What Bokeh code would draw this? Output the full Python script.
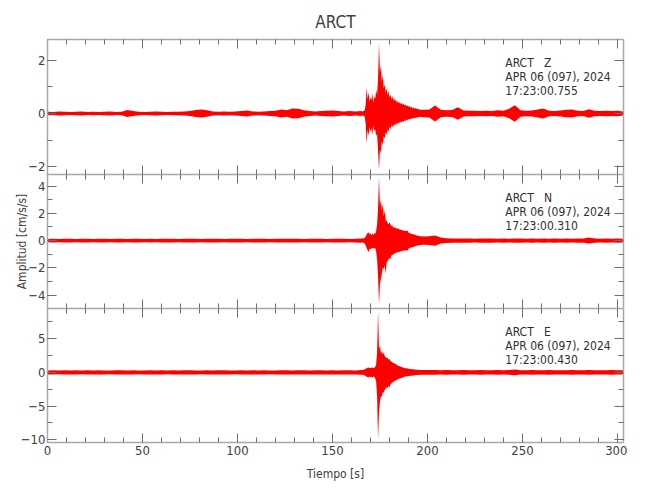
import numpy as np
from bokeh.plotting import figure
from bokeh.layouts import column
from bokeh.models import (Range1d, LinearAxis, SingleIntervalTicker,
                          CustomJSTickFormatter, ColumnDataSource, Label)
from bokeh.embed import file_html
from bokeh.resources import INLINE

# ---------------- data ----------------
station = "ARCT"
date_text = "APR 06 (097), 2024"
channels = ["Z", "N", "E"]
start_times = ["17:23:00.755", "17:23:00.310", "17:23:00.430"]
x_label = "Tiempo [s]"
y_label = "Amplitud [cm/s/s]"
x_max = 303.2
y_limits = [(-2.30, 2.79), (-4.98, 4.85), (-10.4, 9.48)]
y_tick_step = [2, 2, 5]
x_tick_step = 50

# time grids (s): pre-event every 3 s, event every 0.5 s, coda every 3 s
t_pre = np.arange(0, 166, 3)          # 0 ... 165
t_evt = np.arange(166, 196.5, 0.5)    # 166 ... 196
t_post = np.arange(198, 304, 3)       # 198 ... 303

# ---- Z component (peak amplitudes) ----
z_amp_pre = [0.07, 0.06, 0.08, 0.07, 0.06, 0.07, 0.08, 0.06, 0.07, 0.06,
             0.07, 0.08, 0.06, 0.07, 0.13, 0.09, 0.07, 0.06, 0.07, 0.08,
             0.07, 0.06, 0.07, 0.07, 0.08, 0.09, 0.13, 0.15, 0.12, 0.08,
             0.07, 0.08, 0.07, 0.08, 0.09, 0.11, 0.08, 0.07, 0.08, 0.09,
             0.10, 0.15, 0.12, 0.19, 0.18, 0.12, 0.09, 0.08, 0.09, 0.10,
             0.11, 0.09, 0.08, 0.09, 0.08, 0.09]
z_up_evt = [0.08, 0.10, 0.12, 0.35,
            0.97, 0.55, 0.80, 0.45, 0.60, 0.50, 0.75, 0.40, 0.65, 0.55, 0.90, 0.70,
            1.30, 2.67, 1.55, 1.80, 1.20, 1.45, 0.95, 1.10, 0.80, 0.95, 0.70, 0.85,
            0.60, 0.72, 0.55, 0.65, 0.50, 0.58, 0.45, 0.52, 0.40, 0.48, 0.38, 0.42,
            0.35, 0.40, 0.32, 0.38, 0.30, 0.33, 0.28, 0.30, 0.25, 0.28, 0.22, 0.26,
            0.20, 0.24, 0.18, 0.22, 0.17, 0.20, 0.15, 0.17, 0.14]
z_dn_evt = [-0.08, -0.09, -0.12, -0.40,
            -1.13, -0.60, -0.85, -0.50, -0.70, -0.55, -0.80, -0.45, -0.65, -0.60, -0.85, -0.75,
            -1.40, -2.14, -1.36, -1.50, -1.05, -1.20, -0.85, -0.95, -0.70, -0.80, -0.60, -0.70,
            -0.50, -0.60, -0.45, -0.52, -0.42, -0.47, -0.38, -0.43, -0.35, -0.40, -0.32, -0.36,
            -0.30, -0.33, -0.28, -0.31, -0.25, -0.28, -0.23, -0.25, -0.21, -0.23, -0.19, -0.21,
            -0.18, -0.19, -0.16, -0.18, -0.15, -0.16, -0.13, -0.14, -0.12]
z_amp_post = [0.14, 0.15, 0.30, 0.14, 0.12, 0.13, 0.24, 0.11, 0.10, 0.10,
              0.09, 0.10, 0.09, 0.12, 0.10, 0.18, 0.31, 0.12, 0.10, 0.11,
              0.15, 0.19, 0.10, 0.09, 0.11, 0.14, 0.15, 0.10, 0.09, 0.16,
              0.10, 0.09, 0.10, 0.09, 0.10, 0.08]

# ---- N component ----
n_amp_pre = [0.12, 0.13, 0.12, 0.14, 0.13, 0.12, 0.13, 0.14, 0.12, 0.13,
             0.13, 0.12, 0.14, 0.13, 0.12, 0.13, 0.14, 0.12, 0.13, 0.12,
             0.13, 0.14, 0.13, 0.12, 0.13, 0.14, 0.13, 0.12, 0.13, 0.14,
             0.13, 0.12, 0.13, 0.14, 0.13, 0.12, 0.13, 0.14, 0.13, 0.12,
             0.13, 0.14, 0.13, 0.14, 0.13, 0.12, 0.13, 0.14, 0.13, 0.12,
             0.13, 0.14, 0.13, 0.12, 0.13, 0.15]
n_up_evt = [0.15, 0.18, 0.20, 0.30,
            0.45, 0.55, 0.61, 0.45, 0.55, 0.40, 0.50, 0.42, 0.55, 0.48, 0.70, 1.20,
            2.40, 4.66, 2.57, 3.00, 2.20, 2.70, 1.80, 2.20, 1.50, 1.47, 1.30, 1.20,
            1.35, 1.20, 1.05, 1.10, 0.95, 1.00, 0.90, 0.95, 0.85, 0.88, 0.86, 0.80,
            0.78, 0.82, 0.75, 0.70, 0.74, 0.68, 0.72, 0.74, 0.60, 0.55, 0.52, 0.50,
            0.48, 0.45, 0.46, 0.42, 0.40, 0.38, 0.36, 0.34, 0.32]
n_dn_evt = [-0.14, -0.18, -0.22, -0.35,
            -0.55, -0.70, -0.86, -0.60, -0.65, -0.55, -0.60, -0.50, -0.58, -0.55, -0.80, -1.40,
            -2.60, -4.70, -3.20, -2.80, -2.40, -1.96, -2.10, -1.80, -2.45, -1.60, -1.50, -1.35,
            -1.30, -1.35, -1.10, -1.05, -1.00, -0.95, -0.92, -0.90, -0.86, -0.84, -0.86, -0.80,
            -0.78, -0.76, -0.74, -0.72, -0.74, -0.70, -0.68, -0.74, -0.60, -0.55, -0.52, -0.50,
            -0.48, -0.46, -0.44, -0.42, -0.40, -0.38, -0.36, -0.34, -0.32]
n_amp_post = [0.30, 0.32, 0.37, 0.22, 0.18, 0.16, 0.15, 0.16, 0.15, 0.14,
              0.15, 0.16, 0.15, 0.14, 0.15, 0.14, 0.15, 0.16, 0.14, 0.15,
              0.14, 0.15, 0.14, 0.15, 0.14, 0.15, 0.14, 0.15, 0.16, 0.22,
              0.15, 0.14, 0.15, 0.14, 0.15, 0.14]

# ---- E component ----
e_amp_pre = [0.30, 0.32, 0.28, 0.31, 0.30, 0.33, 0.29, 0.31, 0.30, 0.32,
             0.30, 0.29, 0.31, 0.33, 0.30, 0.31, 0.29, 0.30, 0.32, 0.30,
             0.31, 0.29, 0.32, 0.30, 0.31, 0.33, 0.30, 0.29, 0.31, 0.30,
             0.32, 0.31, 0.30, 0.29, 0.31, 0.30, 0.32, 0.30, 0.31, 0.29,
             0.30, 0.32, 0.31, 0.30, 0.33, 0.31, 0.30, 0.32, 0.31, 0.30,
             0.31, 0.30, 0.32, 0.31, 0.30, 0.34]
e_up_evt = [0.35, 0.40, 0.45, 0.55,
            0.60, 0.70, 0.74, 0.60, 0.70, 0.65, 0.75, 0.62, 0.70, 0.80, 1.20, 3.00,
            9.10, 3.50, 3.95, 2.80, 3.20, 2.60, 3.00, 2.40, 2.30, 2.10, 2.20, 1.90,
            2.00, 1.70, 1.60, 1.50, 1.40, 1.35, 1.25, 1.20, 1.10, 1.00, 0.95, 0.90,
            0.85, 0.80, 0.74, 0.70, 0.66, 0.62, 0.60, 0.57, 0.55, 0.52, 0.50, 0.48,
            0.50, 0.46, 0.44, 0.42, 0.40, 0.39, 0.38, 0.37, 0.36]
e_dn_evt = [-0.35, -0.40, -0.45, -0.55,
            -0.65, -0.70, -0.74, -0.62, -0.72, -0.66, -0.74, -0.60, -0.70, -0.85, -1.40, -3.50,
            -9.90, -6.00, -4.40, -3.60, -3.50, -2.96, -3.00, -2.60, -2.40, -2.20, -2.30, -2.00,
            -2.20, -1.80, -1.60, -1.50, -1.40, -1.30, -1.23, -1.15, -1.05, -1.00, -0.95, -0.90,
            -0.85, -0.80, -0.74, -0.70, -0.66, -0.62, -0.58, -0.56, -0.54, -0.52, -0.50, -0.48,
            -0.50, -0.46, -0.44, -0.42, -0.40, -0.39, -0.38, -0.37, -0.36]
e_amp_post = [0.36, 0.34, 0.35, 0.33, 0.34, 0.32, 0.33, 0.35, 0.33, 0.32,
              0.34, 0.33, 0.32, 0.34, 0.33, 0.35, 0.42, 0.33, 0.32, 0.34,
              0.33, 0.32, 0.34, 0.33, 0.32, 0.33, 0.34, 0.32, 0.33, 0.34,
              0.33, 0.32, 0.33, 0.34, 0.33, 0.32]

traces = [
    (z_amp_pre, z_up_evt, z_dn_evt, z_amp_post),
    (n_amp_pre, n_up_evt, n_dn_evt, n_amp_post),
    (e_amp_pre, e_up_evt, e_dn_evt, e_amp_post),
]

# ---------------- style ----------------
FONT = "DejaVu Sans Condensed"
RED = "#ff0000"
AXIS_COLOR = "#a8a8a8"
TICK_COLOR = "#6e6e6e"
TEXT_COLOR = "#404040"
FRAME_W = 576
FRAME_H = [135, 134, 134]
LABEL_X = 241            # left edge of the station/time block (s)
LABEL_OFFSETS = [23, 37, 51]   # px below the frame top
NBSP = "\u00a0"

x_range = Range1d(0, x_max)
x_ticker = SingleIntervalTicker(interval=x_tick_step, num_minor_ticks=5)


def add_axis(fig, side, ticker, show_labels, axis_label=None, label_standoff=5):
    ax = LinearAxis(ticker=ticker)
    ax.axis_line_color = AXIS_COLOR
    ax.axis_line_width = 1.5
    ax.major_tick_in = 9
    ax.major_tick_out = 0
    ax.minor_tick_in = 5
    ax.minor_tick_out = 0
    ax.major_tick_line_color = TICK_COLOR
    ax.minor_tick_line_color = TICK_COLOR
    if show_labels:
        ax.major_label_text_font = FONT
        ax.major_label_text_font_size = "13px"
        ax.major_label_text_color = TEXT_COLOR
        ax.major_label_standoff = 2 if side == "left" else 3
    else:
        ax.formatter = CustomJSTickFormatter(code="return ''")
        ax.major_label_text_font_size = "0px"
        ax.major_label_standoff = 0
    if axis_label:
        ax.axis_label = axis_label
        ax.axis_label_text_font = FONT
        ax.axis_label_text_font_size = "12px"
        ax.axis_label_text_font_style = "normal"
        ax.axis_label_text_color = TEXT_COLOR
        ax.axis_label_standoff = label_standoff
    fig.add_layout(ax, side)
    return ax


figs = []
for i, ch in enumerate(channels):
    lo, hi = y_limits[i]
    first = i == 0
    last = i == len(channels) - 1
    p = figure(frame_width=FRAME_W, frame_height=FRAME_H[i],
               x_range=x_range, y_range=Range1d(lo, hi),
               x_axis_location=None, y_axis_location=None,
               toolbar_location=None, output_backend="svg",
               min_border_left=47, min_border_right=4,
               min_border_top=39 if first else 0,
               min_border_bottom=44 if last else 0,
               outline_line_color=None)
    p.xgrid.visible = False
    p.ygrid.visible = False
    if first:
        p.title.text = station
        p.title.align = "center"
        p.title.text_font = FONT
        p.title.text_font_size = "17px"
        p.title.text_font_style = "normal"
        p.title.text_color = TEXT_COLOR
        p.title.standoff = 15

    amp_pre, up_evt, dn_evt, amp_post = traces[i]
    t = np.concatenate([t_pre, t_evt, t_post])
    up = np.concatenate([amp_pre, up_evt, amp_post])
    dn = np.concatenate([-np.asarray(amp_pre), dn_evt, -np.asarray(amp_post)])
    src = ColumnDataSource(dict(t=t, up=up, dn=dn))
    p.varea(x="t", y1="dn", y2="up", source=src, fill_color=RED)

    y_ticker = SingleIntervalTicker(interval=y_tick_step[i], num_minor_ticks=2)
    add_axis(p, "left", y_ticker, True, y_label if i == 1 else None, label_standoff=-4)
    add_axis(p, "right", y_ticker, False)
    add_axis(p, "above", x_ticker, False)
    add_axis(p, "below", x_ticker, last, x_label if last else None, label_standoff=9)

    lines = [f"{station}{NBSP * 3}{ch}", date_text, start_times[i]]
    px_per_unit = (hi - lo) / FRAME_H[i]
    for txt, off in zip(lines, LABEL_OFFSETS):
        p.add_layout(Label(x=LABEL_X, y=hi - off * px_per_unit, text=txt,
                           text_font=FONT, text_font_size="12px",
                           text_color="#303030", text_baseline="middle",
                           text_align="left"))
    figs.append(p)

layout = column(*figs, spacing=0)
open("out.html", "w").write(file_html(layout, INLINE))
